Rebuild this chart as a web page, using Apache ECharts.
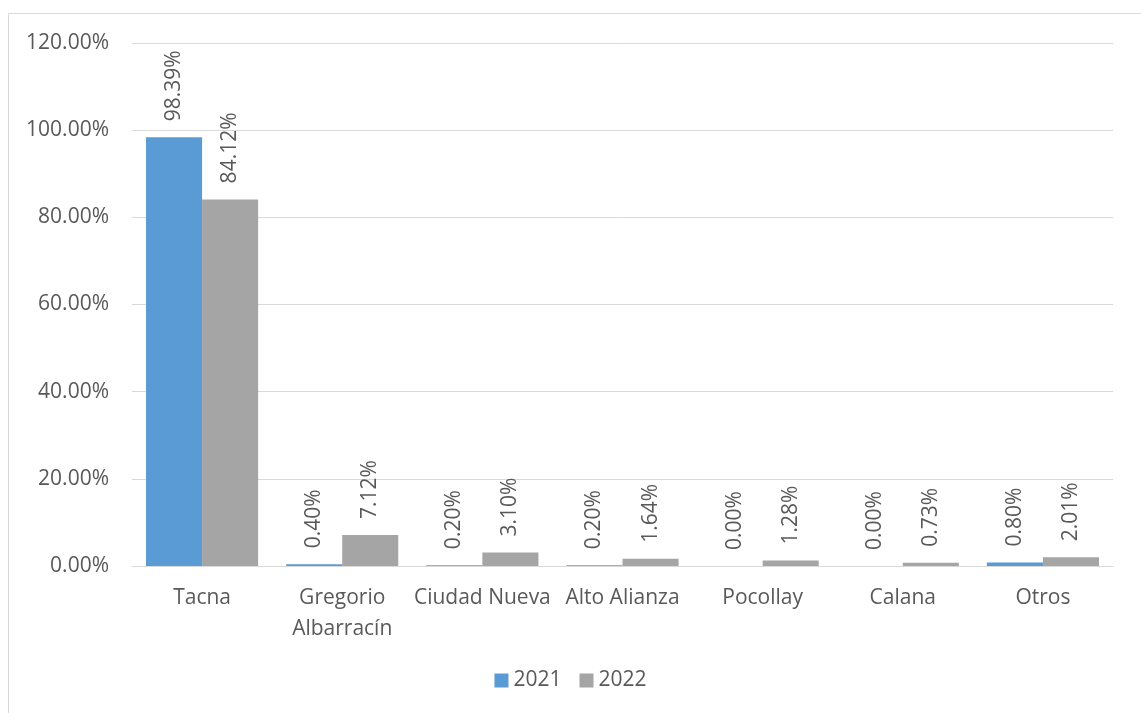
<!DOCTYPE html>
<html>
<head>
<meta charset="utf-8">
<script src="https://cdn.jsdelivr.net/npm/echarts@6/dist/echarts.min.js"></script>
<style>html,body{margin:0;padding:0;background:#fff;}#c{width:1141px;height:713px;}</style>
</head>
<body>
<div id="c"></div>
<script>
const categories = ['Tacna', 'Gregorio\nAlbarracín', 'Ciudad Nueva', 'Alto Alianza', 'Pocollay', 'Calana', 'Otros'];
const seriesNames = ['2021', '2022'];
const values2021 = [98.39, 0.40, 0.20, 0.20, 0.00, 0.00, 0.80];
const values2022 = [84.12, 7.12, 3.10, 1.64, 1.28, 0.73, 2.01];
const yTicks = { min: 0, max: 120, interval: 20 };

const FONT = 'Open Sans';
const FS = 21;
const TXT = '#595959';
const colors = ['#5B9BD5', '#A5A5A5'];

const chart = echarts.init(document.getElementById('c'), null, { renderer: 'canvas' });

function labelCfg() {
  return {
    show: true,
    position: 'top',
    rotate: 90,
    align: 'left',
    verticalAlign: 'middle',
    distance: 16,
    color: TXT,
    fontFamily: FONT,
    fontSize: FS,
    formatter: p => p.value.toFixed(2) + '%'
  };
}

chart.setOption({
  animation: false,
  backgroundColor: '#fff',
  color: colors,
  graphic: [{
    type: 'rect',
    shape: { x: 8.5, y: 13.5, width: 1200, height: 800 },
    style: { fill: 'none', stroke: '#d9d9d9', lineWidth: 1 },
    silent: true
  }],
  grid: { left: 132, right: 28, top: 43, bottom: 147, containLabel: false },
  legend: {
    bottom: 17,
    left: 'center',
    itemWidth: 14,
    itemHeight: 14,
    itemGap: 18,
    icon: 'rect',
    textStyle: { color: TXT, fontFamily: FONT, fontSize: FS },
    data: seriesNames
  },
  xAxis: {
    type: 'category',
    data: categories,
    axisLine: { show: true, lineStyle: { color: '#d9d9d9', width: 1 } },
    axisTick: { show: false },
    axisLabel: { color: TXT, fontFamily: FONT, fontSize: FS, lineHeight: 31, margin: 17, interval: 0 }
  },
  yAxis: {
    type: 'value',
    min: yTicks.min,
    max: yTicks.max,
    interval: yTicks.interval,
    axisLine: { show: false },
    axisTick: { show: false },
    splitLine: { lineStyle: { color: '#d9d9d9', width: 1 } },
    axisLabel: { color: TXT, fontFamily: FONT, fontSize: FS, margin: 23, formatter: v => v.toFixed(2) + '%' }
  },
  series: [
    { name: seriesNames[0], type: 'bar', data: values2021, barGap: '0%', barCategoryGap: '20%', label: labelCfg(), itemStyle: { color: colors[0] } },
    { name: seriesNames[1], type: 'bar', data: values2022, barGap: '0%', barCategoryGap: '20%', label: labelCfg(), itemStyle: { color: colors[1] } }
  ]
});
</script>
</body>
</html>
